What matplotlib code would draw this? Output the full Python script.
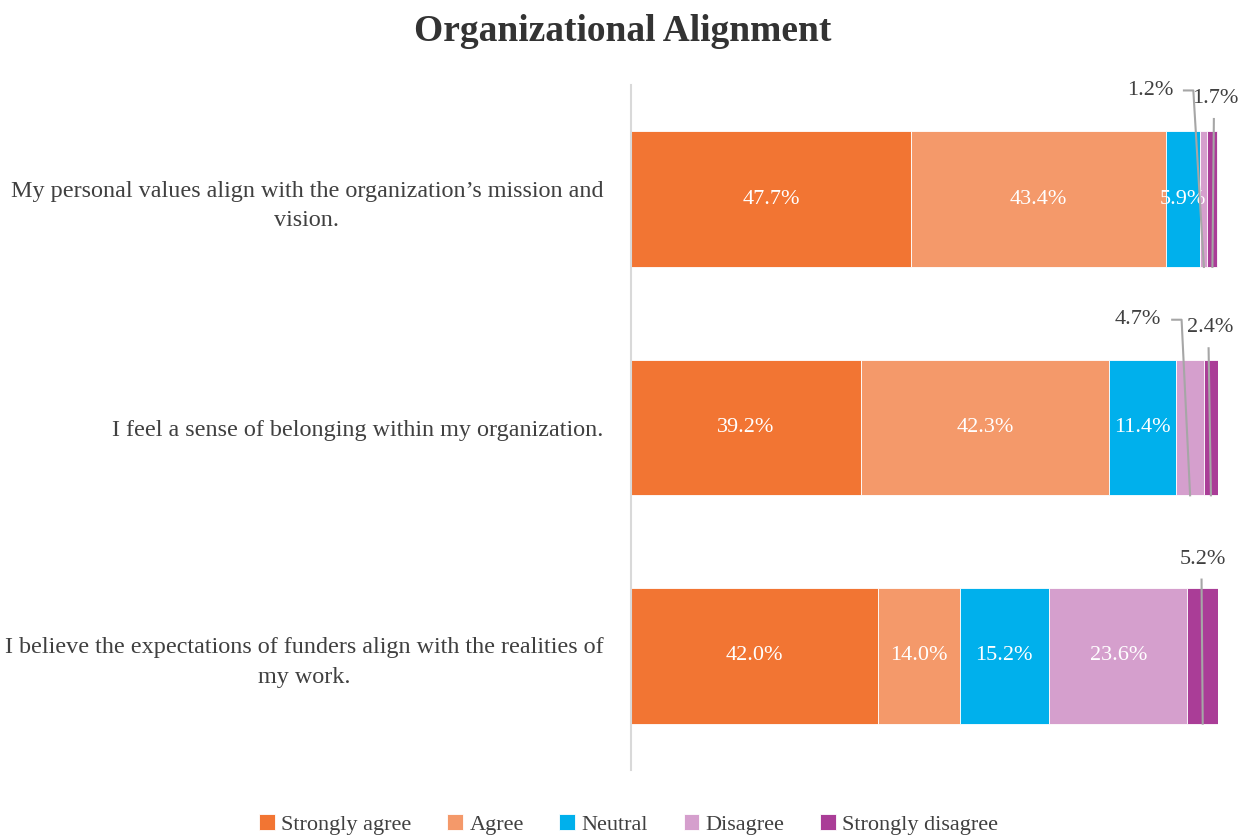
import matplotlib
matplotlib.use('Agg')
import matplotlib.pyplot as plt
import numpy as np

"""
chart data
"""

questions = ['My personal values align with the organization\u2019s mission and\nvision.',
             'I feel a sense of belonging within my organization.',
             'I believe the expectations of funders align with the realities of\nmy work.']
categories = ['Strongly agree', 'Agree', 'Neutral', 'Disagree', 'Strongly disagree']
strongly_agree = [47.7, 39.2, 42.0]
agree = [43.4, 42.3, 14.0]
neutral = [5.9, 11.4, 15.2]
disagree = [1.2, 4.7, 23.6]
strongly_disagree = [1.7, 2.4, 5.2]

colors = ['#F27533', '#F4996A', '#00B0EC', '#D59FCD', '#AA3D97']

# small segments labelled outside the bar: (row, series index, text x, text y, elbow)
outside = [(0, 3, 88.4, -0.476, True),
           (0, 4, 99.5, -0.441, False),
           (1, 3, 86.4, 0.528, True),
           (1, 4, 98.6, 0.563, False),
           (2, 4, 97.4, 1.576, False)]

plt.rcParams['font.family'] = ['Liberation Serif', 'DejaVu Serif']


def main():
    series = np.array([strongly_agree, agree, neutral, disagree, strongly_disagree])
    y = np.arange(len(questions))
    bar_h = 0.594

    fig = plt.figure(figsize=(12.45, 8.38), dpi=100)
    ax = fig.add_axes([0.5068, 0.0811, 0.4715, 0.8175])

    left = np.zeros(len(questions))
    for k, name in enumerate(categories):
        ax.barh(y, series[k], left=left, height=bar_h, color=colors[k],
                edgecolor='white', linewidth=0.6, label=name)
        for i in range(len(questions)):
            v = series[k, i]
            if v >= 5.5:
                ax.text(left[i] + v / 2, y[i], '%.1f%%' % v, color='white',
                        ha='center', va='center', fontsize=16)
        left = left + series[k]

    # leader lines for the small segments
    starts = np.cumsum(series, axis=0) - series
    for row, k, tx, ty, elbow in outside:
        v = series[k, row]
        cx = starts[k, row] + v / 2
        bottom = y[row] + bar_h / 2
        ax.text(tx, ty, '%.1f%%' % v, color='#404040', ha='center', va='center',
                fontsize=16)
        if elbow:
            x0 = tx + 5.8
            x1 = tx + 7.4
            ax.plot([x0, x1, cx], [ty, ty, bottom], color='#A6A6A6', lw=1.5,
                    clip_on=False, zorder=5)
        else:
            ax.plot([tx - 0.2, cx], [ty + 0.09, bottom], color='#A6A6A6', lw=1.5,
                    clip_on=False, zorder=5)

    ax.set_xlim(0, 100)
    ax.set_ylim(2.5, -0.5)
    ax.set_yticks(y)
    ax.set_yticklabels(questions, fontsize=17.4, color='#404040',
                       multialignment='center', linespacing=1.55)
    ax.tick_params(axis='y', length=0, pad=20)
    ax.set_xticks([])
    for s in ['top', 'right', 'bottom']:
        ax.spines[s].set_visible(False)
    ax.spines['left'].set_color('#D9D9D9')
    ax.spines['left'].set_linewidth(1.5)

    fig.suptitle('Organizational Alignment', x=0.5, y=0.983, fontsize=27,
                 fontweight='bold', color='#333333')
    leg = fig.legend(loc='lower center', bbox_to_anchor=(0.505, -0.02), ncol=5,
                     frameon=False, fontsize=16, handlelength=0.7,
                     handleheight=0.7, handletextpad=0.3, columnspacing=1.6)
    for t in leg.get_texts():
        t.set_color('#404040')

    fig.savefig('out.png', dpi=100)


if __name__ == '__main__':
    main()
